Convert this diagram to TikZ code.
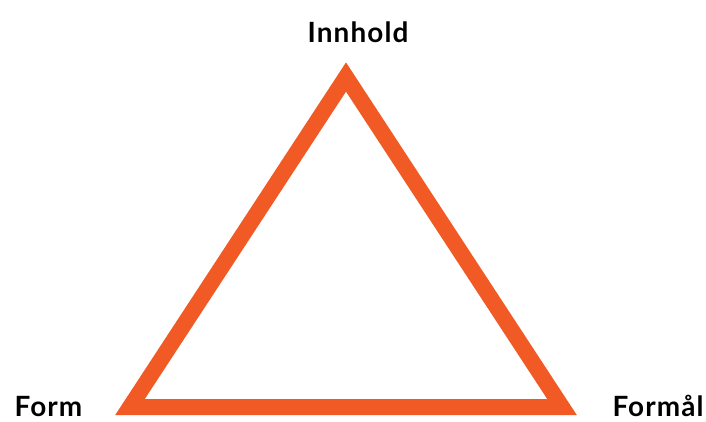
\documentclass[tikz,border=0pt]{standalone}
\usepackage{fontspec}
\setmainfont{Lato}
\newfontfamily\etikett[LetterSpace=4]{Lato}
\definecolor{trekant}{RGB}{241,90,36}
\tikzset{hjorne/.style={font=\etikett\bfseries\fontsize{28}{28}\selectfont,inner sep=0pt,anchor=base}}
\begin{document}
\begin{tikzpicture}[x=1bp,y=-1bp]
\useasboundingbox (0,0) rectangle (706,421);
\coordinate (topp) at (346,77);
\coordinate (venstre) at (130,407);
\coordinate (hoyre) at (562,407);
\draw[trekant,line width=16bp,line join=miter] (topp) -- (venstre) -- (hoyre) -- cycle;
\node[hjorne] (innhold) at (358,42) {Innhold};
\node[hjorne] (form) at (48.5,416) {Form};
\node[hjorne] (formal) at (658,416) {Formål};
\end{tikzpicture}
\end{document}
